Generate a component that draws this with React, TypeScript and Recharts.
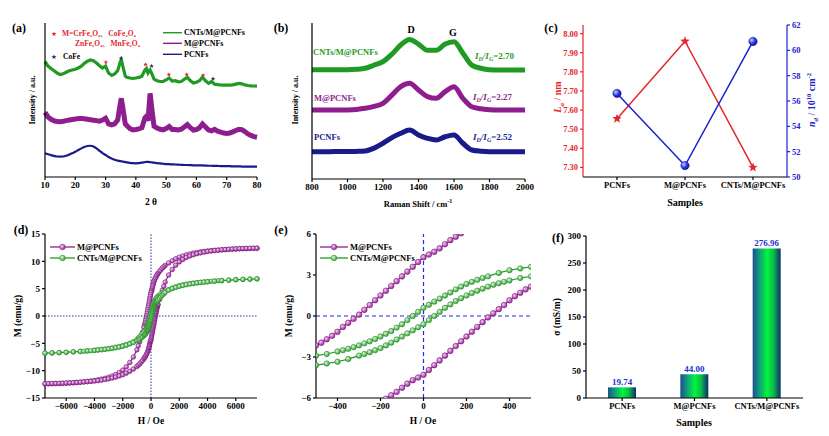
import React from 'react';
import { LineChart, Line, XAxis, YAxis, ReferenceLine, ReferenceDot, BarChart, Bar, LabelList } from 'recharts';

const FONT = '"Liberation Serif", "Times New Roman", serif';

// ---------- (a) XRD ----------
const XRD_2THETA = [10,11,12,13,14,15,16,17,18,19,20,21,22,23,24,25,26,27,28,29,30,31,32,33,34,34.8,35.2,35.7,36.5,37,38,39,40,41,42,43,43.5,44,44.7,45.3,46,47,48,49,50,51,52,53,54,55,56,57,58,59,60,61,62,63,64,65,66,67,68,69,70,71,72,73,74,75,76,77,78,79,80];
const XRD_CNT = [75.0,72.0,70.5,69.0,67.5,66.5,67.0,68.0,69.0,69.5,70.0,70.8,72.0,73.8,75.2,76.0,75.5,74.0,72.3,70.8,72.0,67.5,66.0,67.0,69.0,74.5,76.0,72.0,65.5,64.8,64.3,64.0,64.3,64.7,65.5,69.5,70.5,67.5,69.5,67.0,63.5,62.5,62.0,62.0,63.0,64.3,62.3,62.5,61.8,62.0,63.5,64.7,62.5,61.0,61.5,62.5,64.8,62.5,60.8,62.0,60.3,60.0,59.8,59.7,59.6,59.6,59.8,60.3,60.8,60.5,59.8,59.4,59.2,59.1,59.0];
const XRD_M = [42.0,39.0,37.5,36.5,36.0,35.9,36.2,36.6,37.0,37.3,37.6,38.0,38.0,37.8,37.5,37.2,36.9,36.6,36.3,37.0,38.2,34.5,33.8,34.5,37.0,47.0,51.1,45.0,34.5,33.5,31.5,30.5,30.8,31.2,32.0,38.5,39.5,36.5,54.3,44.0,33.0,31.8,31.0,30.6,31.5,32.8,30.8,30.8,30.5,31.0,32.5,34.0,32.0,30.5,30.8,32.0,34.4,32.5,30.5,30.0,31.0,29.8,29.2,28.5,28.3,28.6,29.3,30.2,31.0,30.8,29.5,28.0,27.0,26.2,25.8];
const XRD_P = [15.4,14.8,14.2,13.7,13.3,13.2,13.3,13.8,14.6,15.4,16.4,17.5,18.6,19.5,20.1,20.3,19.8,18.6,17.0,15.5,14.3,13.0,12.0,11.2,10.6,10.3,10.2,10.0,9.7,9.5,9.2,9.0,8.9,9.0,9.3,9.7,9.8,9.8,9.7,9.5,9.3,9.0,8.8,8.6,8.4,8.3,8.2,8.1,8.0,7.9,7.8,7.8,7.7,7.6,7.6,7.5,7.5,7.4,7.3,7.3,7.2,7.2,7.1,7.1,7.0,7.0,6.9,6.9,6.9,6.8,6.8,6.8,6.7,6.7,6.7];
const XRD_TICKS = [10,20,30,40,50,60,70,80];
const XRD_MARK_RED = [[30.1,74.5],[43.2,73.0],[50.9,66.5],[56.8,66.5],[62.2,66.0]];
const XRD_MARK_DARK = [[35.1,77.0],[45.2,72.0],[65.5,63.8]];

// ---------- (b) Raman ----------
const RAMAN_X = [800,850,900,950,1000,1050,1100,1150,1200,1250,1300,1350,1400,1450,1500,1550,1600,1650,1700,1750,1800,1850,1900,1950,2000];
const RAMAN_CNT = [70,70,70,70,70,70.3,71,73,75.2,80,85.9,89.5,86.5,82.5,82.5,86.5,88,80.6,73,71,70,69.8,69.8,69.8,69.8];
const RAMAN_M = [44.2,44.2,44.2,44.2,44.3,44.6,45.3,46.5,48.5,53.8,59.2,61.3,57,52.8,51.7,56,59.2,51.7,46.3,45,44.4,44.2,44.2,44.2,44.2];
const RAMAN_P = [17.5,17.5,17.5,17.6,17.6,17.7,18,19.8,22.9,26.5,29.3,31.4,28.2,26.1,25,27.1,28.2,22.9,18.6,17.8,17.5,17.5,17.5,17.5,17.5];
const RAMAN_TICKS = [800,1000,1200,1400,1600,1800,2000];

// ---------- (c) La / nd ----------
const SAMPLES = ['PCNFs','M@PCNFs','CNTs/M@PCNFs'];
const LA = [7.555, 7.96, 7.30];
const ND = [56.6, 50.9, 60.7];
const LA_TICKS = [7.3,7.4,7.5,7.6,7.7,7.8,7.9,8.0];
const ND_TICKS = [50,52,54,56,58,60,62];

// ---------- (d)/(e) hysteresis ----------
const MP_DOWN = [[7500,12.4],[7250,12.38],[7000,12.36],[6750,12.34],[6500,12.32],[6250,12.3],[6000,12.27],[5750,12.24],[5500,12.2],[5250,12.16],[5000,12.12],[4750,12.07],[4500,12.02],[4250,11.96],[4000,11.9],[3750,11.82],[3500,11.73],[3250,11.62],[3000,11.5],[2750,11.35],[2500,11.18],[2250,10.98],[2000,10.75],[1750,10.45],[1500,10.1],[1250,9.7],[1000,9.25],[900,9.0],[800,8.75],[700,8.45],[600,8.15],[500,7.8],[450,7.6],[400,7.4],[350,7.15],[300,6.9],[250,6.6],[200,6.3],[175,6.05],[150,5.8],[125,5.55],[100,5.25],[75,4.95],[50,4.7],[25,4.5],[0,4.3],[-25,3.95],[-50,3.6],[-75,3.25],[-100,2.9],[-125,2.55],[-150,2.2],[-175,1.85],[-200,1.5],[-225,1.15],[-250,0.8],[-275,0.45],[-300,0.1],[-325,-0.2],[-350,-0.5],[-375,-0.8],[-400,-1.15],[-425,-1.45],[-450,-1.7],[-475,-1.95],[-500,-2.15],[-600,-3.0],[-700,-3.85],[-800,-4.7],[-900,-5.45],[-1000,-6.2],[-1250,-7.5],[-1500,-8.5],[-1750,-9.3],[-2000,-9.9],[-2250,-10.35],[-2500,-10.7],[-2750,-10.98],[-3000,-11.2],[-3250,-11.4],[-3500,-11.55],[-3750,-11.68],[-4000,-11.8],[-4250,-11.88],[-4500,-11.96],[-4750,-12.03],[-5000,-12.1],[-5250,-12.15],[-5500,-12.2],[-5750,-12.24],[-6000,-12.28],[-6250,-12.31],[-6500,-12.34],[-6750,-12.36],[-7000,-12.38],[-7250,-12.39],[-7500,-12.4]];
const MP_UP = [[-7500,-12.4],[-7250,-12.38],[-7000,-12.36],[-6750,-12.34],[-6500,-12.32],[-6250,-12.3],[-6000,-12.27],[-5750,-12.24],[-5500,-12.2],[-5250,-12.16],[-5000,-12.12],[-4750,-12.07],[-4500,-12.02],[-4250,-11.96],[-4000,-11.9],[-3750,-11.82],[-3500,-11.73],[-3250,-11.62],[-3000,-11.5],[-2750,-11.35],[-2500,-11.18],[-2250,-10.98],[-2000,-10.75],[-1750,-10.45],[-1500,-10.1],[-1250,-9.7],[-1000,-9.25],[-900,-9.0],[-800,-8.75],[-700,-8.45],[-600,-8.15],[-500,-7.8],[-450,-7.6],[-400,-7.4],[-350,-7.15],[-300,-6.9],[-250,-6.6],[-200,-6.3],[-175,-6.05],[-150,-5.8],[-125,-5.55],[-100,-5.25],[-75,-4.95],[-50,-4.7],[-25,-4.5],[0,-4.3],[25,-3.95],[50,-3.6],[75,-3.25],[100,-2.9],[125,-2.55],[150,-2.2],[175,-1.85],[200,-1.5],[225,-1.15],[250,-0.8],[275,-0.45],[300,-0.1],[325,0.2],[350,0.5],[375,0.8],[400,1.15],[425,1.45],[450,1.7],[475,1.95],[500,2.15],[600,3.0],[700,3.85],[800,4.7],[900,5.45],[1000,6.2],[1250,7.5],[1500,8.5],[1750,9.3],[2000,9.9],[2250,10.35],[2500,10.7],[2750,10.98],[3000,11.2],[3250,11.4],[3500,11.55],[3750,11.68],[4000,11.8],[4250,11.88],[4500,11.96],[4750,12.03],[5000,12.1],[5250,12.15],[5500,12.2],[5750,12.24],[6000,12.28],[6250,12.31],[6500,12.34],[6750,12.36],[7000,12.38],[7250,12.39],[7500,12.4]];
const CG_DOWN = [[7500,6.8],[7000,6.75],[6500,6.7],[6000,6.65],[5500,6.57],[5000,6.5],[4750,6.45],[4500,6.4],[4250,6.35],[4000,6.3],[3750,6.24],[3500,6.17],[3250,6.1],[3000,6.02],[2750,5.93],[2500,5.82],[2250,5.7],[2000,5.55],[1750,5.35],[1500,5.12],[1250,4.85],[1000,4.55],[900,4.4],[800,4.25],[700,4.05],[600,3.85],[500,3.6],[450,3.48],[400,3.35],[350,3.15],[300,2.9],[275,2.78],[250,2.65],[225,2.5],[200,2.35],[175,2.15],[150,1.95],[125,1.72],[100,1.5],[75,1.27],[50,1.05],[25,0.82],[0,0.6],[-25,0.3],[-50,0],[-75,-0.3],[-100,-0.6],[-125,-0.85],[-150,-1.1],[-175,-1.3],[-200,-1.5],[-225,-1.68],[-250,-1.85],[-275,-2.0],[-300,-2.15],[-325,-2.28],[-350,-2.4],[-375,-2.5],[-400,-2.6],[-450,-2.78],[-500,-2.9],[-600,-3.2],[-700,-3.5],[-800,-3.78],[-900,-4.05],[-1000,-4.3],[-1250,-4.7],[-1500,-5.0],[-1750,-5.22],[-2000,-5.42],[-2250,-5.58],[-2500,-5.72],[-2750,-5.84],[-3000,-5.95],[-3250,-6.04],[-3500,-6.12],[-3750,-6.19],[-4000,-6.25],[-4500,-6.36],[-5000,-6.46],[-5500,-6.55],[-6000,-6.62],[-6500,-6.7],[-7000,-6.75],[-7500,-6.8]];
const CG_UP = [[-7500,-6.8],[-7000,-6.75],[-6500,-6.7],[-6000,-6.65],[-5500,-6.57],[-5000,-6.5],[-4750,-6.45],[-4500,-6.4],[-4250,-6.35],[-4000,-6.3],[-3750,-6.24],[-3500,-6.17],[-3250,-6.1],[-3000,-6.02],[-2750,-5.93],[-2500,-5.82],[-2250,-5.7],[-2000,-5.55],[-1750,-5.35],[-1500,-5.12],[-1250,-4.85],[-1000,-4.55],[-900,-4.4],[-800,-4.25],[-700,-4.05],[-600,-3.85],[-500,-3.6],[-450,-3.48],[-400,-3.35],[-350,-3.15],[-300,-2.9],[-275,-2.78],[-250,-2.65],[-225,-2.5],[-200,-2.35],[-175,-2.15],[-150,-1.95],[-125,-1.72],[-100,-1.5],[-75,-1.27],[-50,-1.05],[-25,-0.82],[0,-0.6],[25,-0.3],[50,0],[75,0.3],[100,0.6],[125,0.85],[150,1.1],[175,1.3],[200,1.5],[225,1.68],[250,1.85],[275,2.0],[300,2.15],[325,2.28],[350,2.4],[375,2.5],[400,2.6],[450,2.78],[500,2.9],[600,3.2],[700,3.5],[800,3.78],[900,4.05],[1000,4.3],[1250,4.7],[1500,5.0],[1750,5.22],[2000,5.42],[2250,5.58],[2500,5.72],[2750,5.84],[3000,5.95],[3250,6.04],[3500,6.12],[3750,6.19],[4000,6.25],[4500,6.36],[5000,6.46],[5500,6.55],[6000,6.62],[6500,6.7],[7000,6.75],[7500,6.8]];
const D_X_TICKS = [-6000,-4000,-2000,0,2000,4000,6000];
const D_Y_TICKS = [-15,-10,-5,0,5,10,15];
const E_X_TICKS = [-400,-200,0,200,400];
const E_Y_TICKS = [-6,-3,0,3,6];

// ---------- (f) conductivity ----------
const SIGMA = [19.74, 44.0, 276.96];
const SIGMA_LABELS = ['19.74','44.00','276.96'];
const F_Y_TICKS = [0,50,100,150,200,250,300];

// ---------- colours ----------
const GREEN = '#1f9a22';
const PURPLE = '#8e1e8e';
const NAVY = '#1a1a8c';
const RED = '#e3262c';
const BLUE = '#1c22d0';

const tk = { fontSize: 9, fontWeight: 700, fill: '#000', fontFamily: FONT };
const minus = (v: number) => (v < 0 ? `\u2212${Math.abs(v)}` : `${v}`);
const MARGIN = { top: 6, right: 6, left: 0, bottom: 0 };
const AX = { stroke: '#000', strokeWidth: 1.2 };

const xrdRows = XRD_2THETA.map((x, i) => ({ x, c: XRD_CNT[i], m: XRD_M[i], p: XRD_P[i] }));
const ramanRows = RAMAN_X.map((x, i) => ({ x, c: RAMAN_CNT[i], m: RAMAN_M[i], p: RAMAN_P[i] }));
const cRows = SAMPLES.map((s, i) => ({ s, la: LA[i], nd: ND[i] }));
const fRows = SAMPLES.map((s, i) => ({ s, v: SIGMA[i], lbl: SIGMA_LABELS[i] }));
const toRows = (a: number[][]) => a.map(([h, m]) => ({ h, m }));
const mpLoop = toRows([...MP_DOWN, ...MP_UP]);
const cgLoop = toRows([...CG_DOWN, ...CG_UP]);

const starPts = (cx: number, cy: number, R: number, r: number) => {
  const pts: string[] = [];
  for (let i = 0; i < 10; i++) {
    const a = (-90 + i * 36) * Math.PI / 180;
    const rr = i % 2 === 0 ? R : r;
    pts.push(`${cx + rr * Math.cos(a)},${cy + rr * Math.sin(a)}`);
  }
  return pts.join(' ');
};

const Txt = ({ x, y, children, size = 9, color = '#000', rot = 0, anchor = 'middle', italic = false, weight = 700 }: any) => (
  <div
    style={{
      position: 'absolute', left: x, top: y, whiteSpace: 'nowrap', lineHeight: 1,
      transform: `translate(${anchor === 'start' ? '0' : '-50%'},-50%) rotate(${rot}deg)`,
      fontSize: size, color, fontWeight: weight, fontStyle: italic ? 'italic' : 'normal', fontFamily: FONT,
    }}
  >
    {children}
  </div>
);

const Pos = ({ left, top, children }: any) => (
  <div style={{ position: 'absolute', left, top }}>{children}</div>
);

const mkDot = (r: number, fill: string, stroke: string, pre: string) => (p: any) => (
  <circle key={`${pre}${p.index}`} cx={p.cx} cy={p.cy} r={r} fill={fill} stroke={stroke} strokeWidth={0.6} />
);

const LegendLine = ({ color, fill, x, y, w }: any) => (
  <svg style={{ position: 'absolute', left: x, top: y - 4 }} width={w} height={8}>
    <line x1={0} y1={4} x2={w} y2={4} stroke={color} strokeWidth={1.3} />
    <circle cx={w / 2} cy={4} r={2.8} fill={fill} stroke={color} strokeWidth={0.6} />
  </svg>
);

const Frame = () => [
  <XAxis key="ft" xAxisId="t" orientation="top" type="number" domain={[0, 1]} height={0} tick={false} tickLine={false} {...AX} />,
];

export default function App() {
  return (
    <div style={{ position: 'absolute', left: 0, top: 0, width: 829, height: 436, background: '#fff', overflow: 'hidden', fontFamily: FONT }}>
      <svg width={0} height={0} style={{ position: 'absolute' }}>
        <defs>
          <radialGradient id="gPur" cx="35%" cy="35%" r="65%">
            <stop offset="0%" stopColor="#f3d2f3" />
            <stop offset="100%" stopColor="#9a2a9a" />
          </radialGradient>
          <radialGradient id="gGrn" cx="35%" cy="35%" r="65%">
            <stop offset="0%" stopColor="#e2f7e2" />
            <stop offset="100%" stopColor="#3aa83a" />
          </radialGradient>
          <radialGradient id="gBlu" cx="35%" cy="35%" r="65%">
            <stop offset="0%" stopColor="#c9d0ff" />
            <stop offset="55%" stopColor="#3040e8" />
            <stop offset="100%" stopColor="#1010a0" />
          </radialGradient>
          <linearGradient id="gBar" x1="0" y1="0" x2="1" y2="0">
            <stop offset="0%" stopColor="#1c4f8e" />
            <stop offset="25%" stopColor="#12a07a" />
            <stop offset="52%" stopColor="#00f53c" />
            <stop offset="75%" stopColor="#0cb84c" />
            <stop offset="100%" stopColor="#0b2f6b" />
          </linearGradient>
        </defs>
      </svg>

      {/* (a) XRD */}
      <Pos left={5} top={17}>
        <LineChart width={258} height={184} data={xrdRows} margin={MARGIN}>
          <XAxis dataKey="x" type="number" domain={[10, 80]} ticks={XRD_TICKS} interval={0} tickSize={3} tick={tk} {...AX} height={24} />
          <YAxis domain={[0, 100]} width={40} tick={false} tickLine={false} {...AX} />
          <XAxis xAxisId="t" orientation="top" type="number" domain={[0, 1]} height={0} tick={false} tickLine={false} {...AX} />
          <YAxis yAxisId="r" orientation="right" type="number" domain={[0, 1]} width={0} tick={false} tickLine={false} {...AX} />
          <Line dataKey="p" type="monotone" stroke={NAVY} strokeWidth={2.2} dot={false} activeDot={false} isAnimationActive={false} />
          <Line dataKey="m" type="linear" stroke={PURPLE} strokeWidth={5} dot={false} activeDot={false} isAnimationActive={false} />
          <Line dataKey="c" type="linear" stroke={GREEN} strokeWidth={3.2} dot={false} activeDot={false} isAnimationActive={false} />
          {XRD_MARK_RED.map(([x, y], i) => (
            <ReferenceDot key={`r${i}`} x={x} y={y} r={2} shape={(p: any) => <polygon points={starPts(p.cx, p.cy, 2.4, 1.0)} fill={RED} />} />
          ))}
          {XRD_MARK_DARK.map(([x, y], i) => (
            <ReferenceDot key={`k${i}`} x={x} y={y} r={2} shape={(p: any) => <polygon points={starPts(p.cx, p.cy, 2.4, 1.0)} fill="#333355" />} />
          ))}
        </LineChart>
      </Pos>

      {/* (b) Raman */}
      <Pos left={292} top={17}>
        <LineChart width={247} height={186} data={ramanRows} margin={{ ...MARGIN, right: 14 }}>
          <XAxis dataKey="x" type="number" domain={[800, 2000]} ticks={RAMAN_TICKS} interval={0} tickSize={3} tick={tk} {...AX} height={24} />
          <YAxis domain={[0, 100]} width={20} tick={false} tickLine={false} {...AX} />
          <XAxis xAxisId="t" orientation="top" type="number" domain={[0, 1]} height={0} tick={false} tickLine={false} {...AX} />
          <YAxis yAxisId="r" orientation="right" type="number" domain={[0, 1]} width={0} tick={false} tickLine={false} {...AX} />
          <Line dataKey="p" type="monotone" stroke={NAVY} strokeWidth={5} dot={false} activeDot={false} isAnimationActive={false} />
          <Line dataKey="m" type="monotone" stroke={PURPLE} strokeWidth={5} dot={false} activeDot={false} isAnimationActive={false} />
          <Line dataKey="c" type="monotone" stroke={GREEN} strokeWidth={5} dot={false} activeDot={false} isAnimationActive={false} />
        </LineChart>
      </Pos>

      {/* (c) La / nd */}
      <Pos left={553} top={19}>
        <LineChart width={264} height={182} data={cRows} margin={MARGIN}>
          <XAxis dataKey="s" padding={{ left: 34, right: 34 }} interval={0} tickSize={3} tick={{ ...tk, fontSize: 8.5 }} {...AX} height={24} />
          <YAxis domain={[7.25, 8.045]} ticks={LA_TICKS} interval={0} width={30} tickSize={3} tickFormatter={(v: number) => v.toFixed(2)} tick={{ ...tk, fill: RED, fontSize: 8.5 }} stroke={RED} strokeWidth={1.2} />
          <YAxis yAxisId="nd" orientation="right" domain={[50, 62]} ticks={ND_TICKS} interval={0} width={24} tickSize={3} tick={{ ...tk, fill: BLUE, fontSize: 8.5 }} stroke={BLUE} strokeWidth={1.2} />
          <XAxis xAxisId="t" orientation="top" type="number" domain={[0, 1]} height={0} tick={false} tickLine={false} {...AX} />
          <Line dataKey="la" stroke={RED} strokeWidth={1.5} isAnimationActive={false} activeDot={false}
            dot={(p: any) => <polygon key={`s${p.index}`} points={starPts(p.cx, p.cy, 5, 2.1)} fill={RED} />} />
          <Line dataKey="nd" yAxisId="nd" stroke={BLUE} strokeWidth={1.5} isAnimationActive={false} activeDot={false}
            dot={(p: any) => <circle key={`b${p.index}`} cx={p.cx} cy={p.cy} r={4.2} fill="url(#gBlu)" stroke="#1010a0" strokeWidth={0.5} />} />
        </LineChart>
      </Pos>

      {/* (d) hysteresis */}
      <Pos left={15} top={228}>
        <LineChart width={248} height={194} margin={MARGIN}>
          <XAxis dataKey="h" type="number" domain={[-7500, 7500]} ticks={D_X_TICKS} interval={0} tickSize={3} tickFormatter={minus} tick={tk} {...AX} height={24} />
          <YAxis domain={[-15, 15]} ticks={D_Y_TICKS} interval={0} width={30} tickSize={3} tickFormatter={minus} tick={tk} {...AX} />
          <XAxis xAxisId="t" orientation="top" type="number" domain={[0, 1]} height={0} tick={false} tickLine={false} {...AX} />
          <YAxis yAxisId="r" orientation="right" type="number" domain={[0, 1]} width={0} tick={false} tickLine={false} {...AX} />
          <ReferenceLine x={0} stroke="#2a2aa8" strokeDasharray="1.5 1.5" />
          <ReferenceLine y={0} stroke="#2a2aa8" strokeDasharray="1.5 1.5" />
          <Line data={mpLoop} dataKey="m" type="linear" stroke={PURPLE} strokeWidth={1.2} isAnimationActive={false} activeDot={false} dot={mkDot(2.3, 'url(#gPur)', '#7a167a', 'dp')} />
          <Line data={cgLoop} dataKey="m" type="linear" stroke={GREEN} strokeWidth={1.2} isAnimationActive={false} activeDot={false} dot={mkDot(2.3, 'url(#gGrn)', '#238a23', 'dg')} />
        </LineChart>
      </Pos>

      {/* (e) hysteresis zoom */}
      <Pos left={292} top={228}>
        <LineChart width={245} height={194} margin={MARGIN}>
          <XAxis dataKey="h" type="number" domain={[-500, 500]} allowDataOverflow ticks={E_X_TICKS} interval={0} tickSize={3} tickFormatter={minus} tick={tk} {...AX} height={24} />
          <YAxis domain={[-6, 6]} allowDataOverflow ticks={E_Y_TICKS} interval={0} width={24} tickSize={3} tickFormatter={minus} tick={tk} {...AX} />
          <XAxis xAxisId="t" orientation="top" type="number" domain={[0, 1]} height={0} tick={false} tickLine={false} {...AX} />
          <YAxis yAxisId="r" orientation="right" type="number" domain={[0, 1]} width={0} tick={false} tickLine={false} {...AX} />
          <ReferenceLine x={0} stroke="#2626e6" strokeWidth={1.2} strokeDasharray="4 3" />
          <ReferenceLine y={0} stroke="#2626e6" strokeWidth={1.2} strokeDasharray="4 3" />
          <Line data={mpLoop} dataKey="m" type="linear" stroke={PURPLE} strokeWidth={1.2} isAnimationActive={false} activeDot={false} dot={mkDot(2.8, 'url(#gPur)', '#7a167a', 'ep')} />
          <Line data={cgLoop} dataKey="m" type="linear" stroke={GREEN} strokeWidth={1.2} isAnimationActive={false} activeDot={false} dot={mkDot(2.7, 'url(#gGrn)', '#238a23', 'eg')} />
        </LineChart>
      </Pos>

      {/* (f) conductivity */}
      <Pos left={556} top={230}>
        <BarChart width={253} height={192} data={fRows} margin={MARGIN} barSize={28}>
          <XAxis dataKey="s" interval={0} tickSize={3} tick={{ ...tk, fontSize: 8.5 }} {...AX} height={24} />
          <YAxis domain={[0, 300]} ticks={F_Y_TICKS} interval={0} width={30} tickSize={3} tick={tk} {...AX} />
          <XAxis xAxisId="t" orientation="top" type="number" domain={[0, 1]} height={0} tick={false} tickLine={false} {...AX} />
          <YAxis yAxisId="r" orientation="right" type="number" domain={[0, 1]} width={0} tick={false} tickLine={false} {...AX} />
          <Bar dataKey="v" fill="url(#gBar)" isAnimationActive={false}>
            <LabelList dataKey="lbl" position="top" offset={2} style={{ fill: '#2430d0', fontSize: 9, fontWeight: 700, fontFamily: FONT }} />
          </Bar>
        </BarChart>
      </Pos>

      {/* ---------- text overlays ---------- */}
      {/* (a) */}
      <Txt x={19} y={28} size={12}>(a)</Txt>
      <Txt x={33} y={100} size={8} rot={-90}>Intensity / a.u.</Txt>
      <Txt x={151} y={203} size={9.5}>2 θ</Txt>
      <svg style={{ position: 'absolute', left: 51, top: 31 }} width={6} height={6}><polygon points={starPts(3, 3, 2.6, 1.1)} fill={RED} /></svg>
      <Txt x={62} y={34} size={7.5} color={RED} anchor="start">M=CrFe₂O₄、CoFe₂O₄</Txt>
      <Txt x={75} y={44} size={7.5} color={RED} anchor="start">ZnFe₂O₄、MnFe₂O₄</Txt>
      <svg style={{ position: 'absolute', left: 51, top: 54 }} width={6} height={6}><polygon points={starPts(3, 3, 2.6, 1.1)} fill="#333355" /></svg>
      <Txt x={63} y={57} size={7.5} anchor="start">CoFe</Txt>
      <svg style={{ position: 'absolute', left: 163, top: 28 }} width={19} height={30}>
        <line x1={0} y1={4.7} x2={19} y2={4.7} stroke={GREEN} strokeWidth={1.4} />
        <line x1={0} y1={15.3} x2={19} y2={15.3} stroke={PURPLE} strokeWidth={1.4} />
        <line x1={0} y1={26.3} x2={19} y2={26.3} stroke={NAVY} strokeWidth={1.4} />
      </svg>
      <Txt x={184} y={33} size={8} anchor="start">CNTs/M@PCNFs</Txt>
      <Txt x={184} y={43.5} size={8} anchor="start">M@PCNFs</Txt>
      <Txt x={184} y={54.5} size={8} anchor="start">PCNFs</Txt>

      {/* (b) */}
      <Txt x={281} y={28} size={12}>(b)</Txt>
      <Txt x={296} y={100} size={8} rot={-90}>Intensity / a.u.</Txt>
      <Txt x={418} y={203} size={8.5}>Raman Shift / cm<sup style={{ fontSize: 6 }}>-1</sup></Txt>
      <Txt x={411} y={30} size={10}>D</Txt>
      <Txt x={453} y={33} size={10}>G</Txt>
      <Txt x={313} y={52} size={8.5} color={GREEN} anchor="start">CNTs/M@PCNFs</Txt>
      <Txt x={314} y={98} size={8.5} color={PURPLE} anchor="start">M@PCNFs</Txt>
      <Txt x={314} y={137} size={8.5} color={NAVY} anchor="start">PCNFs</Txt>
      <Txt x={475} y={57} size={9} color={GREEN} anchor="start"><i>I</i><sub style={{ fontSize: 6 }}><i>D</i></sub><i>/I</i><sub style={{ fontSize: 6 }}><i>G</i></sub>=2.70</Txt>
      <Txt x={473} y={98} size={9} color={PURPLE} anchor="start"><i>I</i><sub style={{ fontSize: 6 }}><i>D</i></sub><i>/I</i><sub style={{ fontSize: 6 }}><i>G</i></sub>=2.27</Txt>
      <Txt x={473} y={138} size={9} color={NAVY} anchor="start"><i>I</i><sub style={{ fontSize: 6 }}><i>D</i></sub><i>/I</i><sub style={{ fontSize: 6 }}><i>G</i></sub>=2.52</Txt>

      {/* (c) */}
      <Txt x={551} y={28} size={12}>(c)</Txt>
      <Txt x={559} y={97} size={10} rot={-90} color={RED}><i>L</i><sub style={{ fontSize: 7 }}><i>a</i></sub> / nm</Txt>
      <Txt x={813} y={100} size={10} rot={-90} color={BLUE}><i>n</i><sub style={{ fontSize: 7 }}><i>d</i></sub> / 10<sup style={{ fontSize: 6.5 }}>10</sup> cm<sup style={{ fontSize: 6.5 }}>-2</sup></Txt>
      <Txt x={685} y={203} size={10}>Samples</Txt>

      {/* (d) */}
      <Txt x={21} y={230} size={12}>(d)</Txt>
      <Txt x={19} y={316} size={9.5} rot={-90}>M (emu/g)</Txt>
      <Txt x={151} y={422} size={9.5}>H / Oe</Txt>
      <LegendLine x={50} y={247} w={25} color={PURPLE} fill="url(#gPur)" />
      <LegendLine x={50} y={258} w={25} color={GREEN} fill="url(#gGrn)" />
      <Txt x={77} y={247} size={8.5} anchor="start">M@PCNFs</Txt>
      <Txt x={77} y={258} size={8.5} anchor="start">CNTs/M@PCNFs</Txt>

      {/* (e) */}
      <Txt x={281} y={230} size={12}>(e)</Txt>
      <Txt x={290} y={316} size={9.5} rot={-90}>M (emu/g)</Txt>
      <Txt x={423} y={422} size={9.5}>H / Oe</Txt>
      <LegendLine x={320} y={247} w={28} color={PURPLE} fill="url(#gPur)" />
      <LegendLine x={320} y={258} w={28} color={GREEN} fill="url(#gGrn)" />
      <Txt x={350} y={247} size={8.5} anchor="start">M@PCNFs</Txt>
      <Txt x={350} y={258} size={8.5} anchor="start">CNTs/M@PCNFs</Txt>

      {/* (f) */}
      <Txt x={558} y={238} size={12}>(f)</Txt>
      <Txt x={558} y={317} size={9.5} rot={-90}>σ (mS/m)</Txt>
      <Txt x={694} y={423} size={10}>Samples</Txt>
    </div>
  );
}
